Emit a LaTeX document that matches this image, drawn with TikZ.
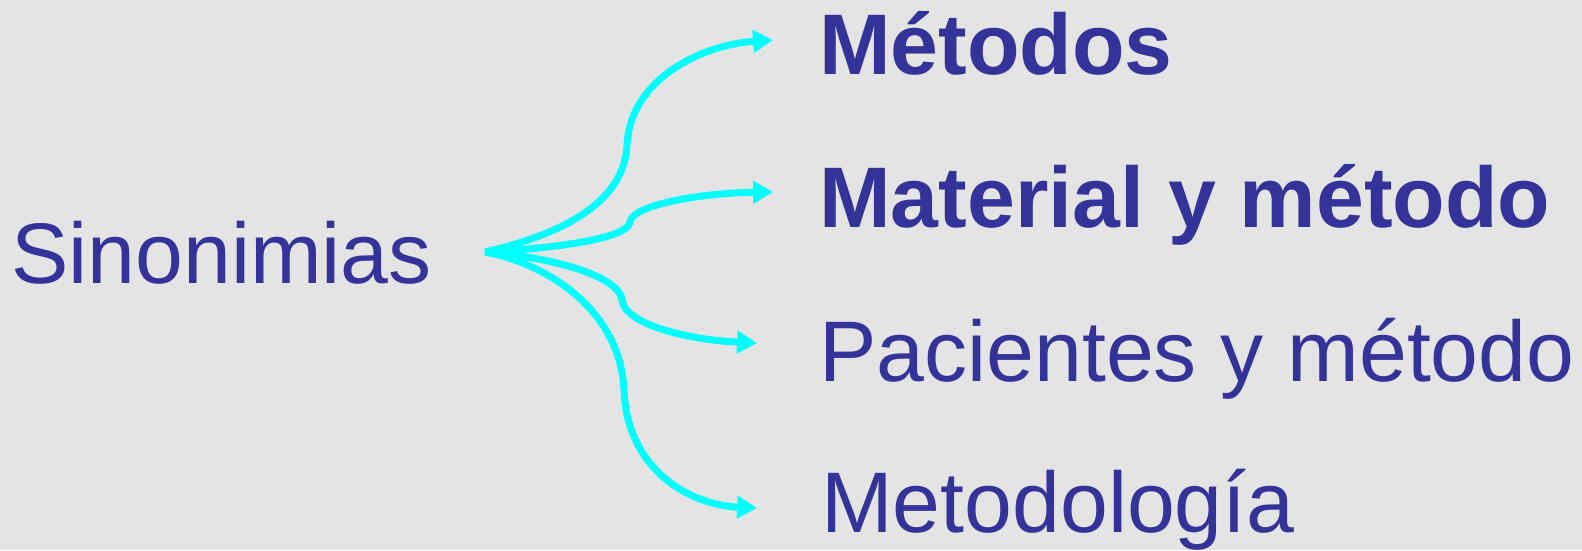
\documentclass[tikz,border=0pt]{standalone}
\usepackage{fontspec}
\setmainfont{Liberation Sans}
\usetikzlibrary{arrows.meta}
\definecolor{bgc}{RGB}{228,228,228}
\definecolor{txt}{RGB}{51,51,153}
\definecolor{cy}{RGB}{0,255,255}
\tikzset{
  lbl/.style={anchor=base west, inner sep=0pt, text=txt, font=\fontsize{86}{90}\selectfont},
  blbl/.style={lbl, font=\fontsize{86}{90}\selectfont\bfseries},
  conn/.style={draw=cy, line width=7pt, -{Triangle[length=20pt,width=22pt]}}
}
\begin{document}
\begin{tikzpicture}[x=1pt,y=-1pt]
\fill[bgc] (0,0) rectangle (1582,550);
\useasboundingbox (0,0) rectangle (1582,550);
\node[lbl] (sin) at (11,283) {Sinonimias};
\node[blbl] (m1) at (819,74) {Métodos};
\node[blbl] (m2) at (819,227) {Material y método};
\node[lbl] (m3) at (819,381) {Pacientes y método};
\node[lbl] (m4) at (821,532) {Metodología};
\coordinate (src) at (485,252);
\coordinate (t1) at (773,40);
\coordinate (t2) at (773,192);
\coordinate (t3) at (757,343);
\coordinate (t4) at (757,508);
\draw[conn] (src) .. controls (545,238) and (624,210) .. (627,145) .. controls (630,80) and (700,45) .. (t1);
\draw[conn] (src) .. controls (560,248) and (628,238) .. (630,222) .. controls (632,205) and (700,193) .. (t2);
\draw[conn] (src) .. controls (560,258) and (620,278) .. (622,300) .. controls (625,325) and (690,340) .. (t3);
\draw[conn] (src) .. controls (548,264) and (620,310) .. (624,390) .. controls (627,470) and (690,505) .. (t4);
\end{tikzpicture}
\end{document}
